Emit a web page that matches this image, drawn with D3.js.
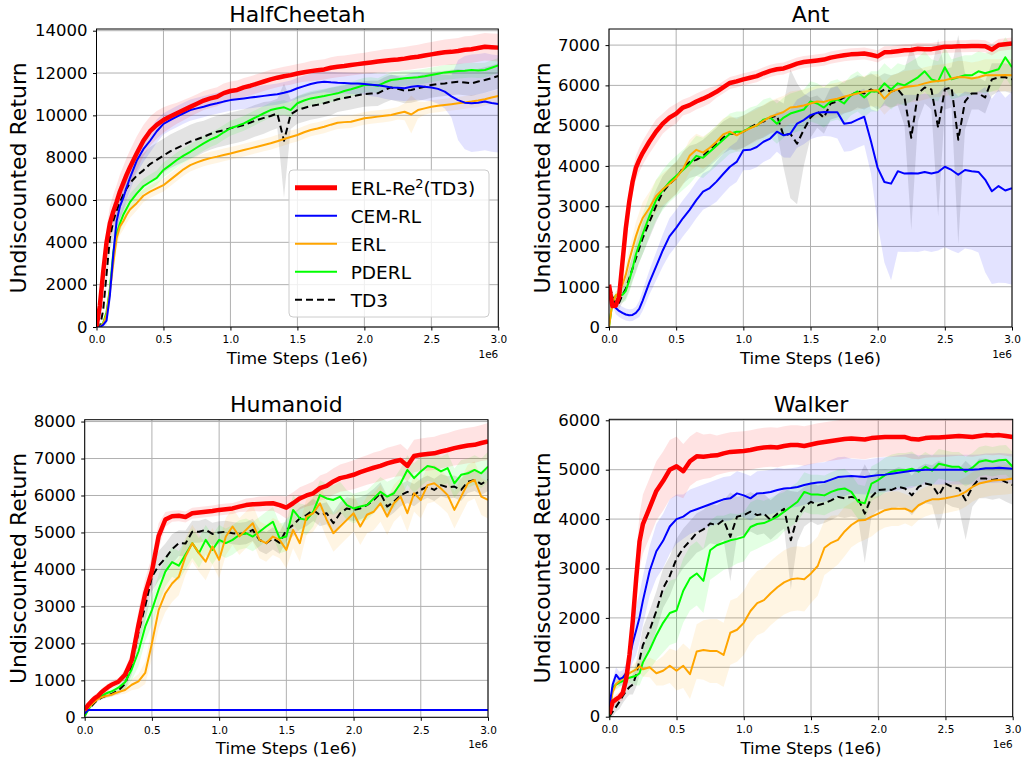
<!DOCTYPE html>
<html>
<head>
<meta charset="utf-8">
<script src="https://cdn.jsdelivr.net/npm/d3@7"></script>
<style>
  body { margin: 0; background: #fff; }
  text { font-family: "DejaVu Sans", sans-serif; fill: #000; }
</style>
</head>
<body>
<div id="chart"></div>
<script>
// Time steps (1e6) shared by every curve
const steps = [0, 0.025, 0.05, 0.075, 0.1, 0.125, 0.15, 0.175, 0.2, 0.225, 0.25,
  0.3, 0.35, 0.4, 0.45, 0.5, 0.55, 0.6, 0.65, 0.7, 0.75,
  0.8, 0.85, 0.9, 0.95, 1.0, 1.05, 1.1, 1.15, 1.2, 1.25,
  1.3, 1.35, 1.4, 1.45, 1.5, 1.55, 1.6, 1.65, 1.7, 1.75,
  1.8, 1.85, 1.9, 1.95, 2.0, 2.05, 2.1, 2.15, 2.2, 2.25,
  2.3, 2.35, 2.4, 2.45, 2.5, 2.55, 2.6, 2.65, 2.7, 2.75,
  2.8, 2.85, 2.9, 2.95, 3.0];

const methods = ["ERL-Re2(TD3)", "CEM-RL", "ERL", "PDERL", "TD3"];
const envs = ["HalfCheetah", "Ant", "Humanoid", "Walker"];
const xTicks = [0, 0.5, 1.0, 1.5, 2.0, 2.5, 3.0];
const cheetahTicks = [0, 2000, 4000, 6000, 8000, 10000, 12000, 14000];
const antTicks = [0, 1000, 2000, 3000, 4000, 5000, 6000, 7000];
const humanoidTicks = [0, 1000, 2000, 3000, 4000, 5000, 6000, 7000, 8000];
const walkerTicks = [0, 1000, 2000, 3000, 4000, 5000, 6000];

// ---- HalfCheetah ----
const cheetahErlRe2 = [0, 1000, 2600, 4000, 4900, 5450, 5900, 6400, 6800, 7200, 7550,
  8200, 8800, 9250, 9550, 9780, 9950, 10100, 10250, 10400, 10550,
  10700, 10800, 10880, 11050, 11150, 11200, 11320, 11400, 11500, 11600,
  11700, 11780, 11850, 11900, 11980, 12040, 12090, 12130, 12170, 12250,
  12300, 12330, 12380, 12420, 12460, 12500, 12540, 12580, 12610, 12640,
  12680, 12730, 12770, 12830, 12880, 12930, 12980, 13000, 13040, 13100,
  13120, 13180, 13240, 13220, 13200];
const cheetahErlRe2Sd = [0, 200, 500, 700, 800, 800, 800, 800, 800, 800, 800,
  800, 750, 700, 650, 600, 550, 500, 480, 450, 450,
  450, 450, 450, 450, 450, 450, 450, 450, 450, 450,
  450, 450, 450, 450, 450, 450, 480, 480, 480, 500,
  500, 500, 500, 500, 500, 520, 520, 540, 540, 550,
  550, 560, 560, 580, 580, 600, 600, 620, 620, 640,
  640, 650, 650, 650, 650];
const cheetahCemRl = [0, 0, 100, 300, 1500, 3400, 5000, 5700, 6100, 6600, 7050,
  7850, 8400, 8800, 9250, 9600, 9780, 9940, 10100, 10250, 10330,
  10410, 10500, 10570, 10650, 10720, 10760, 10800, 10840, 10880, 10920,
  10960, 11000, 11070, 11150, 11280, 11380, 11480, 11550, 11590, 11560,
  11540, 11530, 11510, 11500, 11480, 11450, 11420, 11380, 11320, 11300,
  11280, 11350, 11390, 11350, 11320, 11250, 11120, 10900, 10720, 10600,
  10570, 10600, 10650, 10580, 10540];
const cheetahCemRlSd = [0, 0, 100, 200, 500, 700, 700, 600, 600, 600, 600,
  600, 600, 550, 550, 500, 500, 500, 500, 500, 500,
  500, 500, 500, 500, 500, 500, 500, 500, 500, 500,
  500, 500, 500, 500, 500, 500, 500, 500, 500, 500,
  500, 500, 500, 500, 500, 550, 550, 600, 600, 600,
  600, 650, 650, 650, 650, 700, 800, 1000, 1900, 2200,
  2300, 2300, 2300, 2300, 2300];
const cheetahErl = [0, 0, 150, 600, 1700, 3000, 4200, 4750, 5000, 5300, 5550,
  5850, 6200, 6400, 6550, 6700, 6950, 7200, 7450, 7650, 7780,
  7890, 7980, 8050, 8130, 8200, 8280, 8360, 8440, 8520, 8600,
  8680, 8780, 8880, 8980, 9070, 9200, 9310, 9380, 9460, 9560,
  9650, 9680, 9700, 9780, 9860, 9900, 9940, 9980, 10020, 10100,
  10170, 10040, 10250, 10330, 10410, 10450, 10490, 10530, 10570, 10610,
  10650, 10700, 10760, 10840, 10910];
const cheetahErlSd = [0, 0, 100, 300, 500, 600, 500, 400, 400, 400, 400,
  350, 300, 300, 300, 300, 300, 300, 300, 300, 300,
  300, 300, 300, 300, 300, 300, 300, 300, 300, 300,
  300, 300, 300, 300, 300, 300, 300, 300, 300, 300,
  300, 300, 300, 300, 300, 300, 300, 300, 300, 300,
  400, 900, 400, 300, 300, 300, 300, 300, 300, 300,
  300, 300, 300, 300, 300];
const cheetahPderl = [0, 0, 200, 700, 1800, 3500, 4400, 4900, 5300, 5600, 5900,
  6300, 6650, 6850, 7050, 7420, 7650, 7890, 8100, 8280, 8480,
  8680, 8850, 8990, 9200, 9390, 9500, 9620, 9780, 9940, 10100,
  10250, 10320, 10380, 10250, 10570, 10700, 10800, 10860, 10910, 10980,
  11040, 11150, 11230, 11330, 11430, 11450, 11400, 11550, 11670, 11710,
  11750, 11780, 11800, 11850, 11910, 11970, 12030, 12060, 12090, 12110,
  12140, 12120, 12140, 12250, 12360];
const cheetahPderlSd = [0, 0, 100, 300, 500, 600, 500, 400, 400, 400, 400,
  350, 350, 350, 350, 350, 350, 350, 350, 350, 350,
  350, 350, 350, 350, 350, 350, 350, 350, 350, 350,
  350, 350, 350, 350, 350, 350, 350, 350, 350, 350,
  350, 350, 350, 350, 350, 350, 350, 350, 350, 350,
  350, 350, 350, 350, 350, 350, 350, 350, 350, 350,
  350, 350, 350, 350, 350];
const cheetahTd3 = [0, 0, 800, 2500, 4200, 5000, 5500, 5900, 6250, 6550, 6800,
  7150, 7400, 7700, 7900, 8100, 8300, 8450, 8600, 8760, 8870,
  8990, 9120, 9230, 9300, 9390, 9460, 9540, 9660, 9780, 9880,
  9970, 10090, 8800, 10050, 10250, 10350, 10440, 10500, 10570, 10660,
  10760, 10820, 10880, 10950, 11010, 11030, 11040, 11200, 11320, 11250,
  11170, 11200, 11280, 11350, 11430, 11480, 11510, 11550, 11590, 11550,
  11510, 11600, 11670, 11760, 11860];
const cheetahTd3Sd = [0, 0, 100, 300, 600, 800, 800, 800, 800, 800, 800,
  800, 800, 800, 800, 800, 800, 800, 800, 800, 800,
  750, 750, 750, 750, 750, 750, 750, 750, 750, 750,
  700, 700, 2700, 700, 650, 650, 650, 650, 650, 650,
  600, 600, 600, 600, 600, 600, 600, 600, 600, 600,
  600, 600, 600, 600, 600, 600, 600, 600, 600, 600,
  600, 600, 600, 600, 600];

// ---- Ant ----
const antErlRe2 = [1050, 520, 530, 750, 1600, 2450, 3100, 3600, 3950, 4150, 4320,
  4600, 4850, 5050, 5200, 5300, 5450, 5510, 5600, 5670, 5750,
  5840, 5950, 6060, 6100, 6150, 6190, 6230, 6300, 6360, 6400,
  6420, 6480, 6540, 6580, 6600, 6620, 6640, 6690, 6720, 6750,
  6770, 6780, 6790, 6760, 6720, 6820, 6830, 6850, 6870, 6880,
  6910, 6900, 6900, 6930, 6960, 6960, 6970, 6970, 6980, 6980,
  6970, 6890, 7000, 7020, 7040];
const antErlRe2Sd = [0, 50, 50, 100, 200, 300, 300, 300, 300, 300, 300,
  300, 300, 250, 250, 250, 200, 200, 200, 200, 200,
  150, 150, 150, 150, 150, 150, 150, 150, 150, 150,
  150, 150, 150, 150, 150, 150, 150, 150, 150, 150,
  150, 150, 150, 150, 150, 150, 150, 150, 150, 150,
  150, 150, 150, 150, 150, 150, 150, 150, 150, 150,
  150, 150, 150, 150, 150];
const antCemRl = [1000, 650, 470, 400, 350, 310, 290, 300, 350, 450, 650,
  1100, 1500, 1900, 2250, 2460, 2700, 2910, 3150, 3360, 3450,
  3610, 3800, 3980, 4100, 4390, 4400, 4470, 4600, 4680, 4850,
  4760, 4800, 5050, 5140, 5260, 5320, 5340, 5330, 5330, 5050,
  5070, 5150, 5220, 4610, 3950, 3600, 3560, 3870, 3810, 3820,
  3810, 3850, 3810, 3850, 3980, 3900, 3780, 3900, 3870, 3850,
  3660, 3370, 3500, 3390, 3450];
const antCemRlSd = [0, 100, 150, 150, 150, 150, 150, 150, 150, 200, 250,
  300, 350, 400, 450, 450, 450, 450, 450, 450, 450,
  500, 500, 500, 500, 500, 500, 500, 500, 500, 500,
  550, 600, 600, 600, 600, 600, 600, 600, 650, 700,
  700, 700, 700, 800, 1400, 2000, 2400, 2000, 1950, 1950,
  1950, 1950, 1950, 1950, 2000, 2000, 1950, 1950, 1950, 2000,
  2300, 2300, 2400, 2300, 2400];
const antErl = [0, 600, 780, 850, 1050, 1300, 1650, 1950, 2250, 2500, 2700,
  2950, 3250, 3420, 3550, 3700, 3920, 4250, 4400, 4330, 4450,
  4600, 4780, 4850, 4760, 4850, 4930, 5010, 5120, 5220, 5280,
  5340, 5450, 5470, 5500, 5550, 5600, 5590, 5640, 5670, 5720,
  5760, 5800, 5840, 5870, 5880, 5670, 5840, 5900, 5960, 5980,
  6000, 6050, 6090, 6110, 6130, 6170, 6210, 6200, 6170, 6200,
  6250, 6250, 6250, 6260, 6250];
const antErlSd = [0, 100, 100, 150, 200, 250, 300, 300, 350, 350, 400,
  400, 400, 400, 400, 400, 400, 400, 400, 400, 400,
  400, 400, 400, 400, 400, 400, 400, 400, 400, 400,
  400, 400, 400, 400, 400, 400, 400, 400, 400, 400,
  400, 400, 400, 400, 400, 400, 400, 400, 400, 400,
  400, 400, 400, 400, 400, 400, 400, 400, 400, 400,
  400, 400, 400, 400, 400];
const antPderl = [0, 600, 780, 780, 800, 900, 1150, 1450, 1800, 2050, 2300,
  2750, 3150, 3400, 3600, 3750, 3900, 4050, 4250, 4200, 4350,
  4500, 4650, 4800, 4850, 4850, 4950, 5000, 5150, 5200, 5050,
  5200, 5300, 5350, 5400, 5600, 5550, 5450, 5600, 5650, 5550,
  5750, 5850, 5700, 5850, 5850, 6050, 5900, 6050, 6000, 6100,
  6200, 6350, 6150, 6100, 6450, 6150, 6200, 6250, 6250, 6350,
  6300, 6350, 6400, 6700, 6450];
const antPderlSd = [0, 100, 100, 150, 200, 250, 300, 350, 400, 450, 500,
  500, 500, 500, 500, 500, 500, 500, 500, 500, 500,
  500, 500, 500, 500, 500, 500, 500, 500, 500, 500,
  500, 500, 500, 500, 500, 500, 500, 500, 500, 500,
  500, 500, 500, 500, 500, 500, 500, 500, 500, 500,
  500, 500, 500, 500, 500, 500, 500, 500, 500, 500,
  500, 500, 500, 500, 500];
const antTd3 = [1000, 800, 560, 600, 800, 950, 1200, 1450, 1700, 1950, 2200,
  2600, 3000, 3350, 3550, 3700, 3950, 4100, 4150, 4250, 4400,
  4550, 4700, 4800, 4800, 4850, 4950, 5050, 5100, 5200, 5250,
  4750, 4800, 4550, 4900, 5200, 5350, 5200, 5550, 5600, 5700,
  5750, 5850, 5800, 5900, 5800, 5900, 5850, 5900, 5700, 4700,
  5800, 5950, 5900, 4950, 5900, 5950, 4650, 5600, 5800, 5800,
  5700, 6150, 6200, 6200, 6150];
const antTd3Sd = [0, 100, 100, 150, 200, 250, 300, 300, 350, 350, 400,
  400, 400, 400, 400, 400, 400, 400, 400, 400, 400,
  400, 400, 400, 400, 400, 400, 400, 400, 400, 400,
  800, 1600, 1500, 900, 500, 400, 400, 400, 400, 400,
  400, 400, 400, 400, 400, 400, 400, 400, 700, 2300,
  700, 400, 500, 2200, 500, 500, 2600, 700, 400, 400,
  400, 400, 350, 350, 350];

// ---- Humanoid ----
const humanoidErlRe2 = [200, 330, 430, 520, 580, 680, 750, 820, 880, 920, 960,
  1150, 1550, 2500, 3350, 3950, 4900, 5350, 5440, 5450, 5420,
  5520, 5540, 5560, 5580, 5610, 5630, 5650, 5700, 5740, 5760,
  5770, 5780, 5790, 5740, 5670, 5790, 5920, 6000, 6060, 6200,
  6260, 6380, 6470, 6510, 6560, 6630, 6690, 6750, 6800, 6870,
  6920, 6960, 6800, 7070, 7100, 7120, 7140, 7190, 7230, 7280,
  7320, 7350, 7370, 7420, 7460];
const humanoidErlRe2Sd = [50, 80, 100, 100, 100, 100, 100, 100, 100, 100, 100,
  150, 250, 400, 400, 400, 350, 200, 150, 150, 150,
  150, 150, 150, 150, 150, 150, 150, 150, 180, 180,
  200, 200, 200, 250, 300, 300, 300, 300, 320, 340,
  350, 360, 370, 380, 390, 400, 400, 410, 410, 420,
  420, 430, 430, 440, 440, 450, 450, 460, 460, 470,
  480, 480, 490, 490, 500];
const humanoidCemRl = [100, 200, 200, 200, 200, 200, 200, 200, 200, 200, 200,
  200, 200, 200, 200, 200, 200, 200, 200, 200, 200,
  200, 200, 200, 200, 200, 200, 200, 200, 200, 200,
  200, 200, 200, 200, 200, 200, 200, 200, 200, 200,
  200, 200, 200, 200, 200, 200, 200, 200, 200, 200,
  200, 200, 200, 200, 200, 200, 200, 200, 200, 200,
  200, 200, 200, 200, 200];
const humanoidCemRlSd = [10, 15, 15, 15, 15, 15, 15, 15, 15, 15, 15,
  15, 15, 15, 15, 15, 15, 15, 15, 15, 15,
  15, 15, 15, 15, 15, 15, 15, 15, 15, 15,
  15, 15, 15, 15, 15, 15, 15, 15, 15, 15,
  15, 15, 15, 15, 15, 15, 15, 15, 15, 15,
  15, 15, 15, 15, 15, 15, 15, 15, 15, 15,
  15, 15, 15, 15, 15];
const humanoidErl = [160, 250, 340, 420, 500, 540, 570, 590, 610, 650, 680,
  740, 880, 970, 1200, 2000, 2900, 3350, 3620, 3800, 4350,
  4710, 4440, 4210, 4620, 4260, 4890, 5160, 4890, 5070, 5250,
  4800, 4710, 4890, 4800, 4530, 5070, 4710, 5430, 5520, 5790,
  5340, 4980, 5160, 5340, 5520, 5160, 5480, 5560, 5790, 5430,
  5790, 5970, 5520, 6060, 5880, 6280, 6330, 6190, 6010, 5610,
  5970, 6330, 6420, 5970, 5880];
const humanoidErlSd = [50, 50, 50, 50, 50, 50, 50, 60, 60, 70, 70,
  100, 150, 200, 300, 400, 500, 500, 500, 500, 500,
  500, 500, 500, 500, 500, 500, 500, 500, 500, 500,
  500, 500, 500, 500, 500, 500, 500, 500, 500, 500,
  500, 500, 500, 500, 500, 500, 500, 500, 500, 500,
  500, 500, 500, 500, 500, 500, 500, 500, 500, 500,
  500, 500, 500, 500, 500];
const humanoidPderl = [30, 200, 340, 450, 530, 580, 630, 670, 700, 750, 800,
  950, 1300, 1780, 2450, 2900, 3450, 3940, 4200, 4100, 4400,
  4710, 4440, 4800, 4530, 4800, 4710, 4800, 4930, 4980, 4890,
  5020, 5160, 5290, 4840, 4890, 5610, 5380, 5340, 5560, 6010,
  5920, 5880, 5970, 5740, 5650, 5700, 5740, 5920, 6100, 5970,
  6060, 6330, 6690, 6470, 6650, 6800, 6760, 6650, 6740, 6330,
  6560, 6600, 6690, 6600, 6780];
const humanoidPderlSd = [30, 50, 50, 50, 50, 50, 60, 60, 70, 80, 100,
  200, 300, 400, 400, 400, 400, 400, 400, 400, 400,
  400, 400, 400, 400, 400, 400, 400, 400, 400, 400,
  400, 400, 400, 400, 400, 400, 400, 400, 400, 400,
  400, 400, 400, 400, 400, 400, 400, 400, 400, 400,
  400, 400, 400, 400, 400, 400, 400, 400, 400, 400,
  400, 400, 400, 400, 400];
const humanoidTd3 = [70, 200, 300, 400, 480, 530, 570, 600, 630, 680, 720,
  900, 1400, 2300, 3000, 3800, 4100, 4300, 4550, 4710, 4700,
  5020, 5020, 5070, 4960, 5000, 5020, 4980, 4960, 4980, 5070,
  4800, 4710, 4840, 4720, 5070, 5200, 5380, 5470, 5610, 5470,
  5520, 5250, 5520, 5650, 5610, 5650, 5740, 5880, 6060, 5700,
  5830, 6010, 6100, 6010, 6150, 6240, 6150, 6280, 6220, 6240,
  6150, 6370, 6420, 6310, 6420];
const humanoidTd3Sd = [30, 50, 50, 50, 50, 50, 60, 60, 70, 80, 100,
  150, 250, 350, 400, 400, 400, 400, 400, 350, 350,
  300, 300, 300, 300, 300, 300, 300, 300, 300, 300,
  300, 300, 300, 300, 300, 300, 300, 300, 300, 300,
  300, 300, 300, 300, 300, 300, 300, 300, 300, 300,
  300, 300, 300, 300, 300, 300, 300, 300, 300, 300,
  300, 300, 300, 300, 300];

// ---- Walker ----
const walkerErlRe2 = [50, 300, 350, 400, 480, 750, 1250, 1950, 2800, 3550, 3900,
  4230, 4570, 4770, 5000, 5070, 4970, 5170, 5270, 5260, 5280,
  5290, 5330, 5360, 5370, 5380, 5400, 5430, 5450, 5460, 5450,
  5480, 5500, 5500, 5480, 5510, 5540, 5560, 5580, 5600, 5620,
  5630, 5620, 5610, 5640, 5650, 5660, 5660, 5660, 5660, 5620,
  5610, 5640, 5650, 5650, 5660, 5670, 5680, 5670, 5660, 5680,
  5700, 5690, 5700, 5680, 5660];
const walkerErlRe2Sd = [50, 100, 100, 100, 150, 200, 300, 400, 500, 550, 600,
  600, 600, 600, 600, 600, 550, 500, 500, 450, 450,
  400, 400, 400, 400, 400, 400, 400, 400, 400, 400,
  400, 400, 400, 400, 400, 400, 400, 400, 400, 400,
  400, 400, 400, 400, 400, 400, 400, 400, 400, 400,
  400, 400, 400, 400, 400, 400, 400, 400, 400, 400,
  400, 400, 400, 400, 400];
const walkerCemRl = [200, 650, 850, 760, 790, 880, 1200, 1500, 1750, 2010, 2350,
  2950, 3350, 3560, 3850, 4000, 4050, 4150, 4200, 4250, 4300,
  4350, 4400, 4420, 4520, 4480, 4420, 4520, 4530, 4550, 4590,
  4620, 4630, 4650, 4690, 4720, 4740, 4750, 4800, 4850, 4860,
  4870, 4860, 4850, 4870, 4890, 4900, 4920, 4940, 4960, 4980,
  4990, 5000, 5000, 5000, 5000, 5000, 5000, 5000, 5000, 5010,
  5030, 5030, 5040, 5030, 5020];
const walkerCemRlSd = [50, 100, 150, 150, 150, 200, 300, 400, 500, 500, 500,
  500, 550, 550, 550, 500, 450, 450, 450, 450, 450,
  450, 450, 450, 450, 450, 450, 450, 450, 450, 450,
  400, 400, 400, 400, 400, 400, 400, 400, 400, 400,
  350, 350, 350, 350, 350, 350, 350, 350, 350, 350,
  300, 300, 300, 300, 300, 300, 300, 300, 300, 300,
  300, 300, 300, 300, 300];
const walkerErl = [100, 500, 660, 720, 780, 830, 880, 920, 960, 1020, 960,
  1000, 880, 930, 1030, 930, 1030, 860, 1320, 1350, 1330,
  1330, 1250, 1700, 1760, 1900, 2140, 2300, 2360, 2500, 2620,
  2720, 2780, 2800, 2780, 2900, 3050, 3420, 3520, 3580, 3750,
  3880, 3970, 3980, 4050, 4110, 4180, 4210, 4210, 4210, 4150,
  4280, 4350, 4400, 4400, 4420, 4450, 4480, 4550, 4650, 4720,
  4750, 4780, 4790, 4800, 4820];
const walkerErlSd = [50, 100, 100, 100, 100, 100, 100, 120, 150, 150, 150,
  200, 250, 300, 350, 400, 450, 500, 550, 600, 650,
  650, 650, 650, 650, 650, 650, 650, 650, 650, 650,
  650, 650, 650, 650, 600, 600, 550, 550, 500, 500,
  450, 450, 400, 400, 350, 350, 350, 350, 300, 300,
  300, 300, 300, 300, 300, 300, 300, 300, 300, 300,
  300, 300, 300, 300, 300];
const walkerPderl = [20, 590, 650, 690, 720, 760, 790, 810, 830, 880, 1100,
  1350, 1650, 1900, 2100, 2150, 2550, 2800, 2900, 2750, 3370,
  3470, 3520, 3570, 3600, 3640, 3840, 3900, 3920, 3980, 4050,
  4150, 4250, 4350, 4550, 4500, 4500, 4480, 4550, 4600, 4620,
  4550, 4350, 4320, 4720, 4790, 4890, 4960, 4990, 4990, 5020,
  4960, 5060, 4980, 5120, 5090, 5060, 5060, 4960, 5040, 5160,
  5190, 5160, 5190, 5200, 5060];
const walkerPderlSd = [50, 100, 100, 100, 100, 100, 100, 150, 200, 250, 300,
  400, 500, 600, 650, 650, 650, 650, 650, 650, 600,
  600, 550, 550, 500, 500, 500, 500, 450, 450, 450,
  400, 400, 400, 400, 400, 400, 400, 400, 400, 400,
  350, 350, 350, 350, 350, 350, 350, 350, 350, 350,
  300, 300, 300, 300, 300, 300, 300, 300, 300, 300,
  300, 300, 300, 300, 300];
const walkerTd3 = [0, 100, 200, 300, 420, 520, 600, 650, 850, 1150, 1450,
  1750, 2140, 2600, 2850, 3200, 3410, 3560, 3720, 3790, 3910,
  3880, 3980, 3640, 4050, 4080, 4150, 4080, 4110, 3980, 4110,
  4210, 3570, 4050, 4250, 4350, 4280, 4320, 4380, 4450, 4420,
  4450, 4420, 4110, 4450, 4590, 4600, 4590, 4650, 4620, 4480,
  4650, 4720, 4690, 4480, 4720, 4650, 4620, 4380, 4650, 4820,
  4820, 4790, 4820, 4750, 4690];
const walkerTd3Sd = [50, 100, 100, 150, 150, 150, 150, 200, 250, 300, 350,
  400, 400, 400, 400, 400, 400, 400, 400, 400, 400,
  400, 400, 900, 400, 400, 400, 400, 400, 400, 400,
  400, 1000, 500, 400, 400, 400, 400, 400, 400, 400,
  400, 400, 1000, 400, 400, 400, 400, 400, 400, 400,
  400, 400, 400, 700, 400, 400, 400, 800, 400, 400,
  400, 400, 400, 400, 400];

// Styles per method (same order as methods)
const colors = ["#ff0000", "#0000ff", "#ffa500", "#00ff00", "#000000"];
const widths = [4.5, 2, 2, 2, 2];
const dashes = [null, null, null, null, "7,4"];

// Panel layout (pixel boxes of each plot area)
const layout = [
  { left: 96.5, right: 498.3, top: 29, bottom: 327, yLabelX: 26, yMax: 14080 },
  { left: 609, right: 1012, top: 29, bottom: 327, yLabelX: 550, yMax: 7400 },
  { left: 84.7, right: 488, top: 419.7, bottom: 717.3, yLabelX: 26, yMax: 8050 },
  { left: 609.3, right: 1012.7, top: 419.3, bottom: 716.7, yLabelX: 550, yMax: 6020 }
];

const panels = [
  { ticks: cheetahTicks, means: [cheetahErlRe2, cheetahCemRl, cheetahErl, cheetahPderl, cheetahTd3],
    sds: [cheetahErlRe2Sd, cheetahCemRlSd, cheetahErlSd, cheetahPderlSd, cheetahTd3Sd] },
  { ticks: antTicks, means: [antErlRe2, antCemRl, antErl, antPderl, antTd3],
    sds: [antErlRe2Sd, antCemRlSd, antErlSd, antPderlSd, antTd3Sd] },
  { ticks: humanoidTicks, means: [humanoidErlRe2, humanoidCemRl, humanoidErl, humanoidPderl, humanoidTd3],
    sds: [humanoidErlRe2Sd, humanoidCemRlSd, humanoidErlSd, humanoidPderlSd, humanoidTd3Sd] },
  { ticks: walkerTicks, means: [walkerErlRe2, walkerCemRl, walkerErl, walkerPderl, walkerTd3],
    sds: [walkerErlRe2Sd, walkerCemRlSd, walkerErlSd, walkerPderlSd, walkerTd3Sd] }
];

const svg = d3.select("#chart")
    .append("svg")
    .attr("width", 1022)
    .attr("height", 759);

// draw order: TD3 first, ERL-Re2 last (on top)
const drawOrder = [4, 3, 2, 1, 0];

panels.forEach((p, pi) => {
    const box = layout[pi];
    const x = d3.scaleLinear().domain([0, 3]).range([box.left, box.right]);
    const y = d3.scaleLinear().domain([0, box.yMax]).range([box.bottom, box.top]);
    const g = svg.append("g");

    const clipId = "clip" + pi;
    svg.append("clipPath").attr("id", clipId)
        .append("rect")
        .attr("x", box.left).attr("y", box.top)
        .attr("width", box.right - box.left).attr("height", box.bottom - box.top);

    // grid
    g.append("g").selectAll("line").data(xTicks).join("line")
        .attr("x1", d => x(d)).attr("x2", d => x(d))
        .attr("y1", box.top).attr("y2", box.bottom)
        .attr("stroke", "#b0b0b0").attr("stroke-width", 1);
    g.append("g").selectAll("line").data(p.ticks).join("line")
        .attr("x1", box.left).attr("x2", box.right)
        .attr("y1", d => y(d)).attr("y2", d => y(d))
        .attr("stroke", "#b0b0b0").attr("stroke-width", 1);

    const plot = g.append("g").attr("clip-path", `url(#${clipId})`);

    // shaded bands
    drawOrder.forEach(k => {
        const rows = steps.map((s, i) => ({ s: s, m: p.means[k][i], sd: p.sds[k][i] }));
        const area = d3.area()
            .x(d => x(d.s))
            .y0(d => y(d.m - d.sd))
            .y1(d => y(d.m + d.sd));
        plot.append("path")
            .datum(rows)
            .attr("d", area)
            .attr("fill", colors[k])
            .attr("fill-opacity", 0.11)
            .attr("stroke", "none");
    });

    // mean lines
    drawOrder.forEach(k => {
        const rows = steps.map((s, i) => ({ s: s, m: p.means[k][i] }));
        const line = d3.line()
            .x(d => x(d.s))
            .y(d => y(d.m));
        plot.append("path")
            .datum(rows)
            .attr("d", line)
            .attr("fill", "none")
            .attr("stroke", colors[k])
            .attr("stroke-width", widths[k])
            .attr("stroke-linejoin", "round")
            .attr("stroke-dasharray", dashes[k]);
    });

    // axes
    const yAxis = g.append("g")
        .attr("transform", `translate(${box.left},0)`)
        .call(d3.axisLeft(y).tickValues(p.ticks).tickSize(3.5).tickPadding(5.5).tickFormat(d3.format("d")));
    yAxis.select(".domain").remove();
    yAxis.selectAll("text").style("font-size", "16.5px").attr("fill", "#000")
        .style("font-family", "'DejaVu Sans', sans-serif");

    const xAxis = g.append("g")
        .attr("transform", `translate(0,${box.bottom})`)
        .call(d3.axisBottom(x).tickValues(xTicks).tickSize(3.5).tickPadding(5.5).tickFormat(d3.format(".1f")));
    xAxis.select(".domain").remove();
    xAxis.selectAll("text").style("font-size", "10.5px").attr("fill", "#000")
        .style("font-family", "'DejaVu Sans', sans-serif");

    // frame
    g.append("rect")
        .attr("x", box.left).attr("y", box.top)
        .attr("width", box.right - box.left).attr("height", box.bottom - box.top)
        .attr("fill", "none").attr("stroke", "#000").attr("stroke-width", 1);

    // offset text
    g.append("text")
        .attr("x", box.right).attr("y", box.bottom + 31)
        .attr("text-anchor", "end")
        .style("font-size", "10.5px")
        .text("1e6");

    // title
    g.append("text")
        .attr("x", (box.left + box.right) / 2).attr("y", box.top - 7.3)
        .attr("text-anchor", "middle")
        .style("font-size", "22px")
        .text(envs[pi]);

    // x label
    g.append("text")
        .attr("x", (box.left + box.right) / 2).attr("y", box.bottom + 37)
        .attr("text-anchor", "middle")
        .style("font-size", "16.5px")
        .text("Time Steps (1e6)");

    // y label
    g.append("text")
        .attr("transform", `translate(${box.yLabelX},${(box.top + box.bottom) / 2}) rotate(-90)`)
        .attr("text-anchor", "middle")
        .style("font-size", "22px")
        .text("Undiscounted Return");
});

// Legend in the first panel
const legend = svg.append("g");
legend.append("rect")
    .attr("x", 289).attr("y", 170)
    .attr("width", 200).attr("height", 147)
    .attr("rx", 4)
    .attr("fill", "#fff").attr("fill-opacity", 0.8)
    .attr("stroke", "#cccccc").attr("stroke-width", 1);

methods.forEach((m, i) => {
    const ry = 187.7 + i * 28;
    legend.append("line")
        .attr("x1", 295).attr("x2", 337)
        .attr("y1", ry).attr("y2", ry)
        .attr("stroke", colors[i])
        .attr("stroke-width", widths[i] === 2 ? 2 : 5)
        .attr("stroke-dasharray", dashes[i]);
    const t = legend.append("text")
        .attr("x", 350.7).attr("y", ry + 7)
        .style("font-size", "18.5px");
    if (i === 0) {
        t.append("tspan").text("ERL-Re");
        t.append("tspan").attr("dy", -7).style("font-size", "13px").text("2");
        t.append("tspan").attr("dy", 7).text("(TD3)");
    } else {
        t.text(m);
    }
});
</script>
</body>
</html>
